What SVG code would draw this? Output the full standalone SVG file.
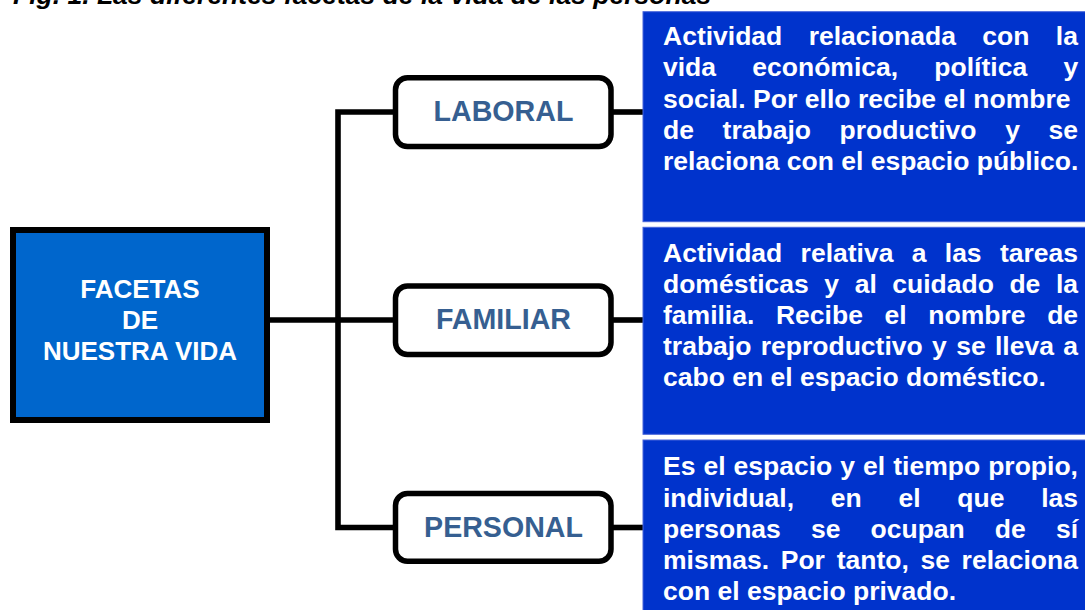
<svg xmlns="http://www.w3.org/2000/svg" width="1085" height="610" viewBox="0 0 1085 610">
<style>
.title{font-family:"Liberation Sans",Arial,sans-serif;font-weight:bold;font-style:italic;font-size:26.5px;fill:#000}
.main{fill:#0066CC;stroke:#000;stroke-width:6}
.maintxt{font-family:"Liberation Sans",Arial,sans-serif;font-weight:bold;font-size:26px;fill:#fff;text-anchor:middle}
.cat{fill:#fff;stroke:#000;stroke-width:5.5}
.cattxt{font-family:"Liberation Sans",Arial,sans-serif;font-weight:bold;font-size:28.6px;fill:#365F91;text-anchor:middle}
.desc{fill:#0033CC;stroke:#4866DA;stroke-width:1}
.desctxt{font-family:"Liberation Sans",Arial,sans-serif;font-weight:bold;font-size:26.5px;fill:#fff}
.conn{fill:none;stroke:#000;stroke-width:5.6;stroke-linejoin:miter;stroke-linecap:butt}
</style>
<text class="title" x="13" y="4">Fig. 1. Las diferentes facetas de la vida de las personas</text>
<g id="connectors">
<path class="conn" d="M270,320 H338"/>
<path class="conn" d="M394,112 H338 V527.5 H394"/>
<path class="conn" d="M338,320 H394"/>
<path class="conn" d="M613,112 H643"/>
<path class="conn" d="M613,320 H643"/>
<path class="conn" d="M613,527.5 H643"/>
</g>
<g id="facetas">
<rect class="main" x="13" y="230" width="254" height="190"/>
<text class="maintxt" x="140" y="298">FACETAS</text>
<text class="maintxt" x="140" y="329">DE</text>
<text class="maintxt" x="140" y="360">NUESTRA VIDA</text>
</g>
<g id="laboral">
<rect class="cat" x="395.5" y="77.8" width="215.5" height="68.8" rx="12"/>
<text class="cattxt" x="503.5" y="121">LABORAL</text>
</g>
<g id="familiar">
<rect class="cat" x="395.5" y="286" width="215.5" height="68.5" rx="12"/>
<text class="cattxt" x="503.5" y="329.3">FAMILIAR</text>
</g>
<g id="personal">
<rect class="cat" x="395.5" y="493.5" width="215.5" height="67.8" rx="12"/>
<text class="cattxt" x="503.5" y="536.7">PERSONAL</text>
</g>
<g id="desc-laboral">
<rect class="desc" x="643" y="11.7" width="445" height="210"/>
<text class="desctxt">
<tspan x="663" y="45" word-spacing="19">Actividad relacionada con la</tspan>
<tspan x="663" y="76.25" word-spacing="28.9">vida económica, política y</tspan>
<tspan x="663" y="107.5" word-spacing="0.2">social. Por ello recibe el nombre</tspan>
<tspan x="663" y="138.75" word-spacing="21.3">de trabajo productivo y se</tspan>
<tspan x="663" y="170" word-spacing="0">relaciona con el espacio público.</tspan>
</text>
</g>
<g id="desc-familiar">
<rect class="desc" x="643" y="227.3" width="445" height="207"/>
<text class="desctxt">
<tspan x="663" y="262" word-spacing="10.95">Actividad relativa a las tareas</tspan>
<tspan x="663" y="293" word-spacing="8.18">domésticas y al cuidado de la</tspan>
<tspan x="663" y="324" word-spacing="14.3">familia. Recibe el nombre de</tspan>
<tspan x="663" y="355" word-spacing="2">trabajo reproductivo y se lleva a</tspan>
<tspan x="663" y="386" word-spacing="0">cabo en el espacio doméstico.</tspan>
</text>
</g>
<g id="desc-personal">
<rect class="desc" x="643" y="440" width="445" height="175"/>
<text class="desctxt">
<tspan x="663" y="475" word-spacing="0.68">Es el espacio y el tiempo propio,</tspan>
<tspan x="663" y="506.5" word-spacing="29.4">individual, en el que las</tspan>
<tspan x="663" y="537.5" word-spacing="22.75">personas se ocupan de sí</tspan>
<tspan x="663" y="568.5" word-spacing="4.33">mismas. Por tanto, se relaciona</tspan>
<tspan x="663" y="600" word-spacing="0">con el espacio privado.</tspan>
</text>
</g>
</svg>
